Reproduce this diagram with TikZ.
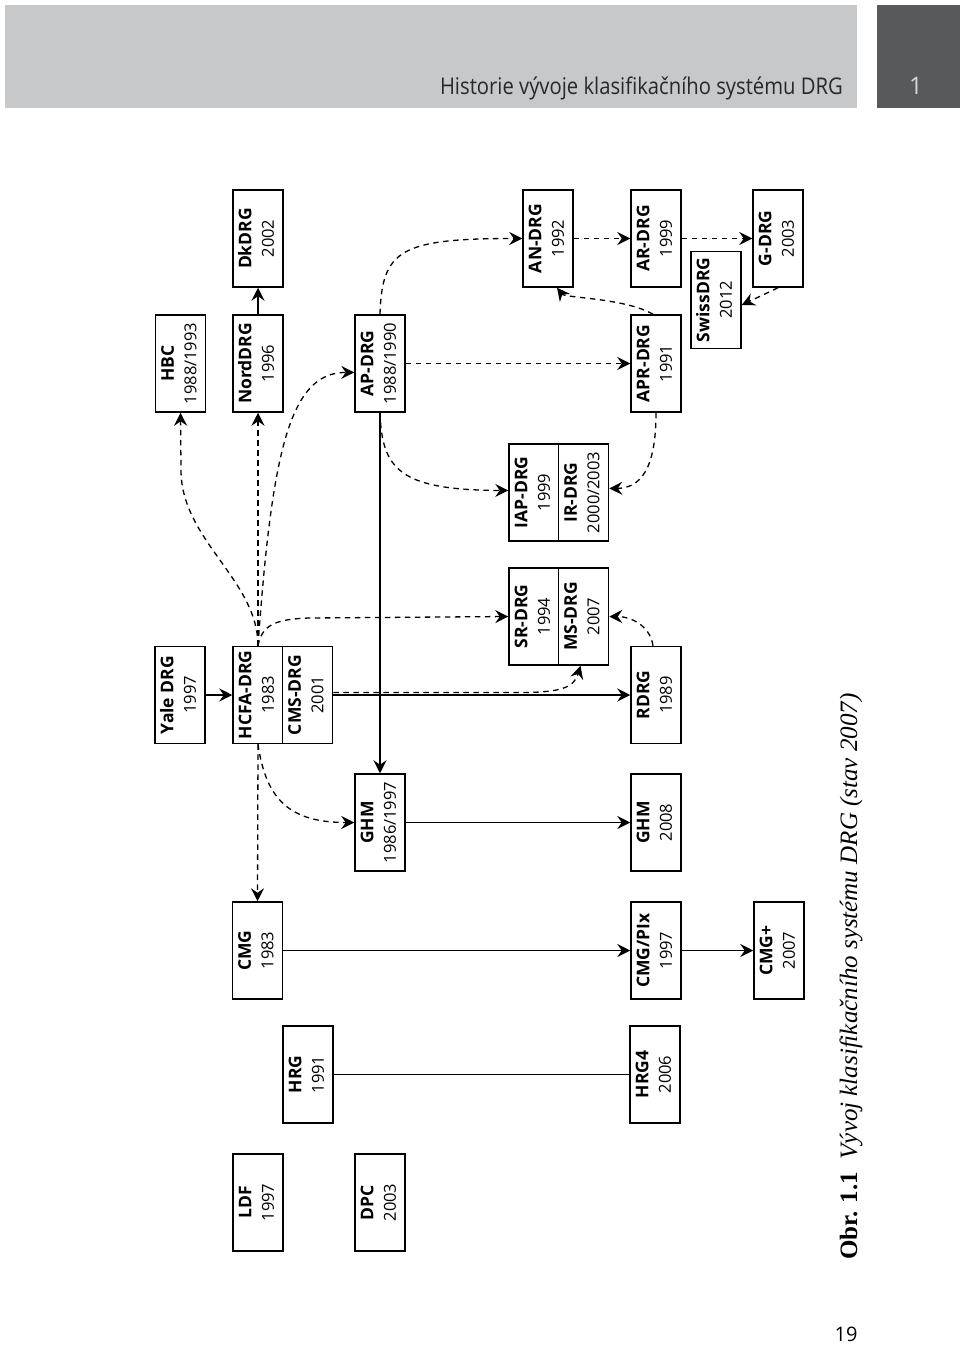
\documentclass[tikz,border=0pt]{standalone}
\usepackage{fontspec}
\setmainfont{Open Sans}
\newfontfamily\capfont{Liberation Serif}
\usetikzlibrary{arrows.meta,calc}
\definecolor{hdrlight}{RGB}{199,200,202}
\definecolor{hdrdark}{RGB}{88,89,91}
\definecolor{hdrtext}{RGB}{40,40,42}
\definecolor{chaptext}{RGB}{215,216,218}
\newcommand\drgtext[2]{\rotatebox{90}{\fontsize{17.5}{22.5}\selectfont\begin{tabular}{@{}c@{}}\textbf{#1}\\{\fontsize{16.5}{22.5}\selectfont #2}\end{tabular}}}
\begin{document}
\begin{tikzpicture}[x=1pt,y=-1pt,
  box/.style={draw, line width=1.5pt, minimum width=50pt, minimum height=97pt, inner sep=0pt, fill=white},
  conn/.style={line width=1.3pt},
  dsh/.style={conn, dash pattern=on 5.5pt off 4.5pt},
  arr/.style={-{Stealth[length=13pt,width=13pt,inset=4.5pt]}},
]
\useasboundingbox (0,0) rectangle (960,1348);
% header
\fill[hdrlight] (5,5) rectangle (857,108);
\fill[hdrdark] (877,5) rectangle (960,108);
\node[anchor=base east, text=hdrtext, inner sep=0pt] (title) at (843,95) {\scalebox{0.88}[1]{\fontsize{23}{27}\selectfont Historie vývoje klasifikačního systému DRG}};
\node[anchor=base, text=chaptext, font=\fontsize{24}{28}\selectfont, inner sep=0pt] (chap) at (916,95) {1};
% boxes
\node[box] (dk) at (258,238.5) {\drgtext{DkDRG}{2002}};
\node[box] (hbc) at (180.5,363.5) {\drgtext{HBC}{1988/1993}};
\node[box] (nord) at (258,363.5) {\drgtext{NordDRG}{1996}};
\node[box] (ap) at (380,363.5) {\drgtext{AP-DRG}{1988/1990}};
\node[box] (an) at (548,238.5) {\drgtext{AN-DRG}{1992}};
\node[box] (ar) at (656,238.5) {\drgtext{AR-DRG}{1999}};
\node[box] (gdrg) at (778,238.5) {\drgtext{G-DRG}{2003}};
\node[box] (swiss) at (716,300) {\drgtext{SwissDRG}{2012}};
\node[box] (apr) at (656,363.5) {\drgtext{APR-DRG}{1991}};
\node[box] (yale) at (180,695) {\drgtext{Yale DRG}{1997}};
\node[box] (hcfa) at (258,695) {\drgtext{HCFA-DRG}{1983}};
\node[box] (cms) at (307.5,695) {\drgtext{CMS-DRG}{2001}};
\node[box] (iap) at (534,492.5) {\drgtext{IAP-DRG}{1999}};
\node[box] (ir) at (583.5,492.5) {\drgtext{IR-DRG}{2000/2003}};
\node[box] (sr) at (534,616.5) {\drgtext{SR-DRG}{1994}};
\node[box] (ms) at (583.5,616.5) {\drgtext{MS-DRG}{2007}};
\node[box] (rdrg) at (656,695) {\drgtext{RDRG}{1989}};
\node[box] (ghm) at (380,822.5) {\drgtext{GHM}{1986/1997}};
\node[box] (ghmb) at (656,822.5) {\drgtext{GHM}{2008}};
\node[box] (cmg) at (257.5,950.5) {\drgtext{CMG}{1983}};
\node[box] (cmgpix) at (656,950.5) {\drgtext{CMG/PIx}{1997}};
\node[box] (cmgplus) at (779,950.5) {\drgtext{CMG+}{2007}};
\node[box] (hrg) at (308,1074.5) {\drgtext{HRG}{1991}};
\node[box] (hrgb) at (655,1074.5) {\drgtext{HRG4}{2006}};
\node[box] (ldf) at (258,1202.5) {\drgtext{LDF}{1997}};
\node[box] (dpc) at (380,1202.5) {\drgtext{DPC}{2003}};
% solid connectors
\draw[conn,arr] (nord.north) -- (dk.south);
\draw[conn,arr] (yale.east) -- (hcfa.west);
\draw[conn,arr] (cms.east) -- (rdrg.west);
\draw[conn,arr] (ap.south) -- (ghm.north);
\draw[conn,arr] (ghm.east) -- (ghmb.west);
\draw[conn,arr] (cmg.east) -- (cmgpix.west);
\draw[conn,arr] (cmgpix.east) -- (cmgplus.west);
\draw[conn] (hrg.east) -- (hrgb.west);
% dashed connectors
\draw[dsh,arr] (hcfa.north) .. controls (258,580) and (181,540) .. (181,470) -- (hbc.south);
\draw[dsh,arr] (hcfa.north) -- (nord.south);
\draw[dsh,arr] (hcfa.north) .. controls (272,450) and (290,372) .. ([yshift=-9pt]ap.west);
\draw[dsh,arr] (hcfa.north) .. controls (262,625) and (275,619) .. (310,618) -- (sr.west);
\draw[dsh,arr] (hcfa.south) -- (cmg.north);
\draw[dsh,arr] (hcfa.south) .. controls (266,800) and (290,822.5) .. (ghm.west);
\draw[dsh,arr] ([yshift=2.5pt]cms.east) -- (520,692.5) .. controls (560,692.5) and (574,688) .. ([xshift=-3pt]ms.south);
\draw[dsh,arr] (ap.south) .. controls (382,470) and (400,490) .. ([yshift=2pt]iap.west);
\draw[dsh,arr] (ap.north) .. controls (382,250) and (400,238.5) .. (an.west);
\draw[dsh,arr] (ap.east) -- (apr.west);
\draw[dsh,arr] (an.east) -- (ar.west);
\draw[dsh,arr] (ar.east) -- (gdrg.west);
\draw[dsh,arr] (gdrg.south) -- ([yshift=-5pt]swiss.east);
\draw[dsh,arr] ([xshift=-3pt]apr.north) .. controls (625,298) and (565,298) .. ([xshift=9pt]an.south);
\draw[dsh,arr] (apr.south) .. controls (656,470) and (640,488) .. ([yshift=4pt]ir.east);
\draw[dsh,arr] ([xshift=-3pt]rdrg.north) .. controls (650,625) and (630,616.5) .. (ms.east);
% caption and page number
\node[rotate=90, anchor=base west, inner sep=0pt] (cap) at (857,1260) {\capfont\fontsize{25}{30}\selectfont\textbf{Obr. 1.1}\hspace{0.5em}\textit{Vývoj klasifikačního systému DRG (stav 2007)}};
\node[anchor=base, inner sep=0pt, font=\fontsize{20}{24}\selectfont] (pnum) at (846,1341) {19};
\end{tikzpicture}
\end{document}
